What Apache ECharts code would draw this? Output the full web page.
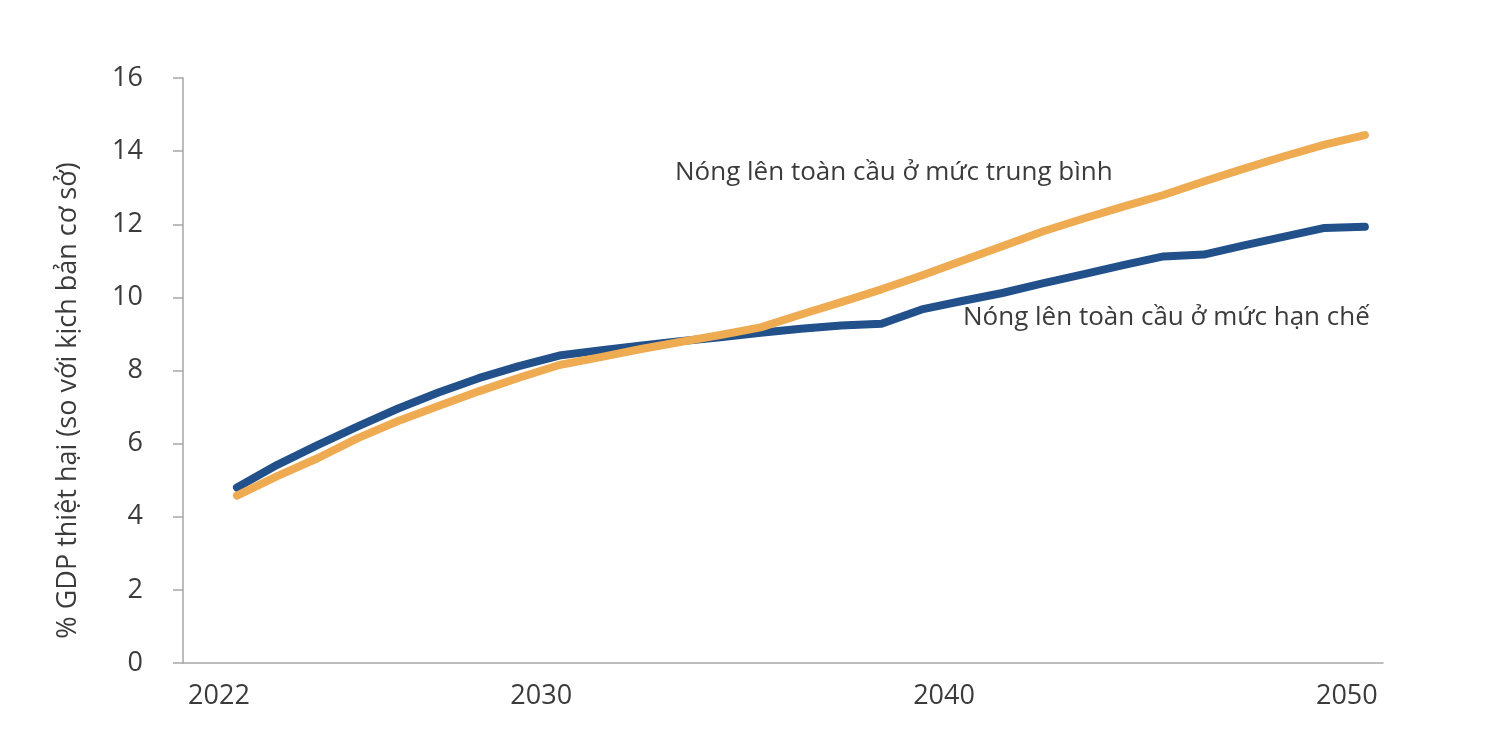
<!DOCTYPE html>
<html>
<head>
<meta charset="utf-8">
<script src="https://cdn.jsdelivr.net/npm/echarts@6/dist/echarts.min.js"></script>
<style>
  html, body { margin: 0; padding: 0; background: #fff; }
  #chart { width: 1500px; height: 748px; }
</style>
</head>
<body>
<div id="chart"></div>
<script>
const years = [
  2022, 2023, 2024, 2025, 2026, 2027, 2028, 2029, 2030, 2031,
  2032, 2033, 2034, 2035, 2036, 2037, 2038, 2039, 2040, 2041,
  2042, 2043, 2044, 2045, 2046, 2047, 2048, 2049, 2050
]
// Nóng lên toàn cầu ở mức hạn chế
const limitedWarming = [
  4.8, 5.42, 5.96, 6.47, 6.96, 7.4, 7.79, 8.12, 8.41, 8.55,
  8.68, 8.8, 8.91, 9.03, 9.14, 9.23, 9.28, 9.67, 9.9, 10.12,
  10.38, 10.63, 10.88, 11.12, 11.17, 11.42, 11.66, 11.9, 11.93
]
// Nóng lên toàn cầu ở mức trung bình
const moderateWarming = [
  4.58, 5.11, 5.6, 6.15, 6.62, 7.03, 7.43, 7.8, 8.15, 8.36,
  8.58, 8.78, 8.97, 9.18, 9.53, 9.87, 10.22, 10.6, 11.0, 11.4,
  11.8, 12.15, 12.48, 12.8, 13.17, 13.52, 13.86, 14.18, 14.44
]
const yearTicks = [2022, 2030, 2040, 2050]
const yTicks = { min: 0, max: 16, interval: 2 }

const textColor = '#3b3b3b'
const font = 'Open Sans'

const chart = echarts.init(document.getElementById('chart'))

chart.setOption({
  backgroundColor: '#ffffff',
  animation: false,
  grid: { left: 183, right: 117, top: 78, bottom: 85 },
  xAxis: {
    type: 'value',
    min: 2020.66,
    max: 2050.45,
    splitLine: { show: false },
    axisLine: { show: true, lineStyle: { color: '#a6a6a6', width: 1.5 } },
    axisTick: { show: false },
    axisLabel: {
      customValues: yearTicks,
      color: textColor,
      fontFamily: font,
      fontSize: 27,
      margin: 20,
      padding: [0, 36, 0, 0],
      formatter: v => String(v)
    }
  },
  yAxis: {
    type: 'value',
    min: yTicks.min,
    max: yTicks.max,
    interval: yTicks.interval,
    name: '% GDP thiệt hại (so với kịch bản cơ sở)',
    nameLocation: 'middle',
    nameGap: 101,
    nameTextStyle: {
      color: textColor,
      fontFamily: font,
      fontSize: 27,
      padding: [0, 60, 0, 0]
    },
    splitLine: { show: false },
    axisLine: { show: true, lineStyle: { color: '#a6a6a6', width: 1.5 } },
    axisTick: { show: true, inside: false, length: 10, lineStyle: { color: '#a6a6a6', width: 1.5 } },
    axisLabel: {
      color: textColor,
      fontFamily: font,
      fontSize: 27,
      margin: 40
    }
  },
  series: [
    {
      name: 'Nóng lên toàn cầu ở mức trung bình',
      type: 'line',
      data: years.map((y, i) => [y, moderateWarming[i]]),
      showSymbol: false,
      lineStyle: { color: '#eeab52', width: 8, cap: 'round', join: 'round' },
      z: 2
    },
    {
      name: 'Nóng lên toàn cầu ở mức hạn chế',
      type: 'line',
      data: years.map((y, i) => [y, limitedWarming[i]]),
      showSymbol: false,
      lineStyle: { color: '#21508a', width: 8, cap: 'round', join: 'round' },
      z: 1
    }
  ],
  graphic: [
    {
      type: 'text',
      left: 675,
      top: 160,
      style: {
        text: 'Nóng lên toàn cầu ở mức trung bình',
        fill: textColor,
        font: '26px "Open Sans"'
      }
    },
    {
      type: 'text',
      left: 963,
      top: 305,
      style: {
        text: 'Nóng lên toàn cầu ở mức hạn chế',
        fill: textColor,
        font: '26px "Open Sans"'
      }
    }
  ]
})
</script>
</body>
</html>
